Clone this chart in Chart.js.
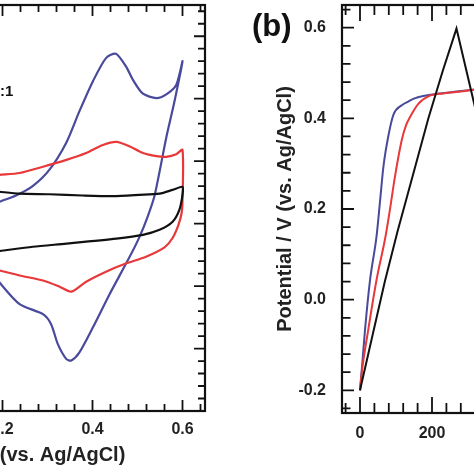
<!DOCTYPE html>
<html>
<head>
<meta charset="utf-8">
<script src="https://cdn.jsdelivr.net/npm/chart.js@4.4.1/dist/chart.umd.min.js"></script>
<style>
  html, body { margin: 0; padding: 0; background: #fff; }
  body { width: 474px; height: 474px; overflow: hidden; position: relative; }
  canvas { position: absolute; top: 0; }
  #cv { left: -210px; }
  #gcd { left: 237px; }
</style>
</head>
<body>
<canvas id="cv" width="420" height="474"></canvas>
<canvas id="gcd" width="321" height="474"></canvas>
<script>
// (a) cyclic voltammograms: potential (V) and current, one loop per sample
const cvBlueE = [0.18, 0.193, 0.23, 0.267, 0.304, 0.342, 0.371, 0.401, 0.43, 0.452, 0.475, 0.49, 0.512, 0.542, 0.564, 0.586, 0.6,
                 0.582, 0.564, 0.538, 0.522, 0.504, 0.482, 0.438, 0.401, 0.371, 0.353, 0.342, 0.323, 0.308, 0.29, 0.238, 0.193, 0.18];
const cvBlueI = [0.30, 0.35, 0.45, 0.6, 0.86, 1.3, 1.8, 2.28, 2.65, 2.72, 2.51, 2.30, 2.08, 2.01, 2.07, 2.22, 2.6,
                 1.95, 1.38, 0.45, 0.1, -0.22, -0.54, -1.13, -1.66, -2.06, -2.19, -2.17, -1.93, -1.61, -1.45, -1.29, -0.94, -0.8];
const cvRedE = [0.18, 0.193, 0.238, 0.29, 0.342, 0.386, 0.423, 0.453, 0.482, 0.512, 0.542, 0.564, 0.586, 0.6,
                0.6, 0.598, 0.591, 0.578, 0.56, 0.519, 0.474, 0.43, 0.386, 0.353, 0.327, 0.29, 0.238, 0.193, 0.18];
const cvRedI = [0.77, 0.78, 0.81, 0.91, 1.02, 1.13, 1.26, 1.31, 1.24, 1.13, 1.08, 1.07, 1.11, 1.18,
                0.38, 0.17, -0.02, -0.23, -0.38, -0.53, -0.64, -0.77, -0.93, -1.09, -1.01, -0.91, -0.83, -0.75, -0.73];
const cvBlackE = [0.18, 0.193, 0.238, 0.304, 0.378, 0.445, 0.504, 0.549, 0.578, 0.6,
                  0.6, 0.593, 0.578, 0.549, 0.512, 0.453, 0.342, 0.267, 0.193, 0.18];
const cvBlackI = [0.52, 0.51, 0.48, 0.47, 0.45, 0.44, 0.46, 0.48, 0.54, 0.59,
                  0.46, 0.22, 0.03, -0.10, -0.18, -0.24, -0.32, -0.37, -0.44, -0.45];
const cvTicks = [-0.2, 0.0, 0.2, 0.4, 0.6];

// (b) charge curves: time (s) and potential (V)
const gcdBlackT = [0, 35, 69, 104, 148, 190, 230, 268, 335];
const gcdBlackV = [-0.2, -0.078, 0.04, 0.15, 0.278, 0.40, 0.505, 0.598, 0.372];
const gcdBlueT = [0, 5, 14, 28, 46, 56, 65, 79, 93, 116, 134, 148, 180, 213, 268, 315, 335];
const gcdBlueV = [-0.2, -0.154, -0.066, 0.044, 0.14, 0.22, 0.293, 0.362, 0.408, 0.429, 0.437, 0.443, 0.45, 0.454, 0.459, 0.463, 0.465];
const gcdRedT = [0, 5, 23, 46, 71, 83, 97, 116, 128, 139, 162, 194, 230, 268, 315, 335];
const gcdRedV = [-0.2, -0.16, -0.066, 0.044, 0.14, 0.198, 0.271, 0.352, 0.385, 0.403, 0.432, 0.45, 0.455, 0.458, 0.463, 0.465];
const timeTicks = [0, 200, 400];
const potTicks = [-0.2, 0.0, 0.2, 0.4, 0.6];

const BLUE = '#4a4a9c', RED = '#e8383a', BLACK = '#111';
const FONT = '"Liberation Sans", Arial, sans-serif';

function pts(xs, ys) {
    return xs.map((v, i) => ({x: v, y: ys[i]}));
}

// no extra room for the end labels, the plot box is placed by hand
function noEdgePad(s) {
    s.paddingTop = 0;
    s.paddingBottom = 0;
    s.paddingLeft = 0;
    s.paddingRight = 0;
}

// box around the plot with inward major/minor ticks on all four sides
const frameTicks = {
    id: 'frameTicks',
    afterDatasetsDraw(chart, args, o) {
        const {ctx, chartArea: a, scales: {x, y}} = chart;
        ctx.save();
        ctx.strokeStyle = '#111';
        ctx.lineWidth = 1.8;
        const each = (scale, step, major, fn) => {
            for (let i = Math.ceil(scale.min / step - 1e-9); i * step <= scale.max + 1e-9; i++) {
                const v = i * step;
                const r = v / major;
                fn(scale.getPixelForValue(v), Math.abs(r - Math.round(r)) < 1e-6);
            }
        };
        ctx.beginPath();
        each(x, o.xStep, o.xMajor, (p, big) => {
            const l = big ? o.xLen[0] : o.xLen[1];
            ctx.moveTo(p, a.bottom); ctx.lineTo(p, a.bottom - l);
            ctx.moveTo(p, a.top); ctx.lineTo(p, a.top + l);
        });
        each(y, o.yStep, o.yMajor, (p, big) => {
            const l = big ? o.yLen[0] : o.yLen[1];
            ctx.moveTo(a.left, p); ctx.lineTo(a.left + l, p);
            ctx.moveTo(a.right, p); ctx.lineTo(a.right - l, p);
        });
        ctx.stroke();
        ctx.lineWidth = 2.2;
        ctx.strokeRect(a.left, a.top, a.right - a.left, a.bottom - a.top);
        ctx.restore();
    }
};

const freeText = {
    id: 'freeText',
    afterDraw(chart, args, o) {
        const ctx = chart.ctx;
        ctx.save();
        ctx.fillStyle = '#111';
        ctx.textBaseline = 'middle';
        ctx.textAlign = 'left';
        (o.items || []).forEach(t => {
            ctx.font = t.font;
            ctx.fillText(t.text, t.x, t.y);
        });
        ctx.restore();
    }
};

const tickFont = {family: FONT, size: 16, weight: 'bold'};

new Chart(document.getElementById('cv'), {
    type: 'scatter',
    data: {
        datasets: [
            {data: pts(cvBlackE, cvBlackI), borderColor: BLACK},
            {data: pts(cvRedE, cvRedI), borderColor: RED},
            {data: pts(cvBlueE, cvBlueI), borderColor: BLUE}
        ]
    },
    options: {
        responsive: false,
        devicePixelRatio: 1,
        animation: false,
        showLine: true,
        elements: {
            point: {radius: 0},
            line: {borderWidth: 2.2, tension: 0.25, fill: false}
        },
        layout: {padding: {top: 5, right: 5, left: 0, bottom: 0}},
        scales: {
            x: {
                type: 'linear',
                min: -0.25,
                max: 0.65,
                grid: {display: false},
                border: {display: false},
                afterBuildTicks: s => { s.ticks = cvTicks.map(v => ({value: v})); },
                afterFit: s => { s.height = 63; noEdgePad(s); },
                ticks: {font: tickFont, color: '#222', padding: 1, maxRotation: 0,
                        callback: v => v.toFixed(1)},
                title: {display: true, text: 'Potential / V (vs. Ag/AgCl)', color: '#222',
                        font: {family: FONT, size: 20, weight: 'bold'}, padding: {top: 0, bottom: 7}}
            },
            y: {
                type: 'linear',
                min: -3.0,
                max: 3.5,
                grid: {display: false},
                border: {display: false},
                ticks: {display: false},
                afterFit: s => { s.width = 10; noEdgePad(s); }
            }
        },
        plugins: {
            legend: {display: false},
            tooltip: {enabled: false},
            frameTicks: {xStep: 0.04, xMajor: 0.2, yStep: 0.2, yMajor: 1, xLen: [11, 7], yLen: [11, 7]},
            freeText: {items: [{text: ':1', x: 210, y: 92, font: 'bold 15px ' + FONT}]}
        }
    },
    plugins: [frameTicks, freeText]
});

new Chart(document.getElementById('gcd'), {
    type: 'scatter',
    data: {
        datasets: [
            {data: pts(gcdBlackT, gcdBlackV), borderColor: BLACK, tension: 0},
            {data: pts(gcdRedT, gcdRedV), borderColor: RED, cubicInterpolationMode: 'monotone'},
            {data: pts(gcdBlueT, gcdBlueV), borderColor: BLUE, cubicInterpolationMode: 'monotone'}
        ]
    },
    options: {
        responsive: false,
        devicePixelRatio: 1,
        animation: false,
        showLine: true,
        elements: {
            point: {radius: 0},
            line: {borderWidth: 2, fill: false}
        },
        layout: {padding: {top: 5, right: 0, left: 0, bottom: 0}},
        scales: {
            x: {
                type: 'linear',
                min: -50,
                max: 550,
                grid: {display: false},
                border: {display: false},
                afterBuildTicks: s => { s.ticks = timeTicks.map(v => ({value: v})); },
                afterFit: s => { s.height = 61; noEdgePad(s); },
                ticks: {font: tickFont, color: '#222', padding: 3, maxRotation: 0}
            },
            y: {
                type: 'linear',
                min: -0.25,
                max: 0.65,
                grid: {display: false},
                border: {display: false},
                afterBuildTicks: s => { s.ticks = potTicks.map(v => ({value: v})); },
                afterFit: s => { s.width = 105; noEdgePad(s); },
                ticks: {font: tickFont, color: '#222', padding: 8, callback: v => v.toFixed(1)},
                title: {display: true, text: 'Potential / V (vs. Ag/AgCl)', color: '#222',
                        font: {family: FONT, size: 20, weight: 'bold'}, padding: {top: 36, bottom: 0}}
            }
        },
        plugins: {
            legend: {display: false},
            tooltip: {enabled: false},
            frameTicks: {xStep: 40, xMajor: 200, yStep: 0.04, yMajor: 0.2, xLen: [16, 10], yLen: [12, 8.5]},
            freeText: {items: [{text: '(b)', x: 15, y: 27, font: 'bold 31px ' + FONT}]}
        }
    },
    plugins: [frameTicks, freeText]
});
</script>
</body>
</html>
